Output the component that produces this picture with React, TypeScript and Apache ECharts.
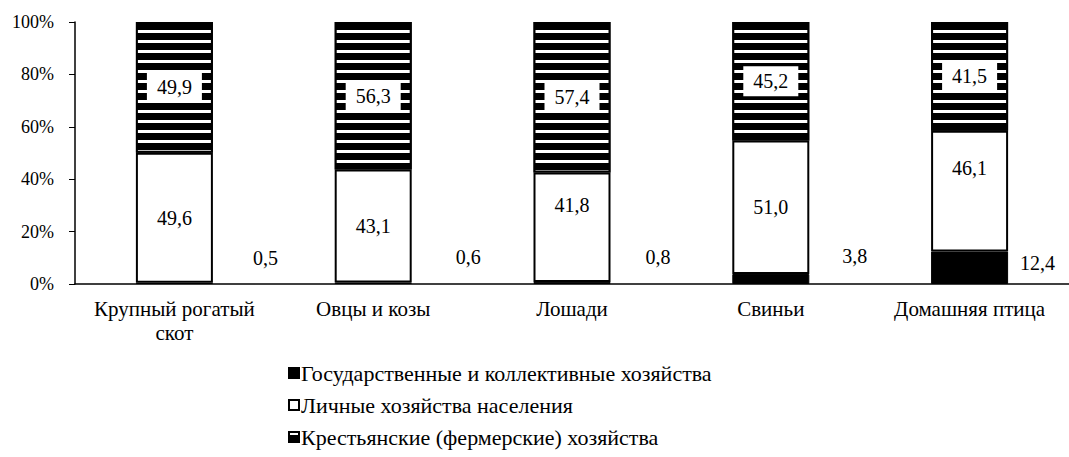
import React, { useEffect, useRef } from "react";
import * as echarts from "echarts";

const categories = ["Крупный рогатый\nскот", "Овцы и козы", "Лошади", "Свиньи", "Домашняя птица"];
const stateFarms = [0.5, 0.6, 0.8, 3.8, 12.4];
const households = [49.6, 43.1, 41.8, 51.0, 46.1];
const peasantFarms = [49.9, 56.3, 57.4, 45.2, 41.5];
const seriesNames = [
  "Государственные и коллективные хозяйства",
  "Личные хозяйства населения",
  "Крестьянские (фермерские) хозяйства",
];
const yTicks = [0, 20, 40, 60, 80, 100];

// label placement tweaks (layout only)
const stateLabelShift: number[][] = [[40, -25], [44, -26], [35, -26], [33, -23], [12, -5]];
const householdLabelShift = [0, 0, -22, 0, -23];

const FONT = "Liberation Serif";
const fmt = (v: number) => v.toFixed(1).replace(".", ",");

export default function App() {
  const ref = useRef<HTMLDivElement>(null);
  useEffect(() => {
    document.body.style.margin = "0";
    const chart = echarts.init(ref.current!, null, { renderer: "svg" });
    chart.setOption({
      animation: false,
      backgroundColor: "#fff",
      textStyle: { fontFamily: FONT, color: "#000" },
      grid: { left: 75, right: -6, top: 22, bottom: 173, containLabel: false },
      legend: {
        orient: "vertical",
        left: 288,
        top: 362,
        padding: 0,
        height: 95,
        itemWidth: 10,
        itemHeight: 10,
        itemGap: 10,
        icon: "rect",
        textStyle: { fontFamily: FONT, fontSize: 22, lineHeight: 22, color: "#000", padding: [0, 0, 0, -3] },
        data: seriesNames,
      },
      xAxis: {
        type: "category",
        data: categories,
        axisLine: { lineStyle: { color: "#000", width: 1.5 } },
        axisTick: { show: false },
        axisLabel: { interval: 0, fontFamily: FONT, fontSize: 21, color: "#000", margin: 13, lineHeight: 24 },
      },
      yAxis: {
        type: "value",
        min: yTicks[0],
        max: yTicks[yTicks.length - 1],
        interval: 20,
        axisLine: { show: true, lineStyle: { color: "#000", width: 1.5 } },
        axisTick: { show: true, length: 6, lineStyle: { color: "#000" } },
        splitLine: { show: false },
        axisLabel: { fontFamily: FONT, fontSize: 18, color: "#000", margin: 21, formatter: "{value}%" },
      },
      series: [
        {
          name: seriesNames[0],
          type: "bar",
          stack: "total",
          barWidth: 77,
          itemStyle: { color: "#000", borderColor: "#000", borderWidth: 1 },
          data: stateFarms.map((v, i) => ({
            value: v,
            label: { offset: stateLabelShift[i] },
          })),
          label: {
            show: true,
            position: "right",
            distance: 0,
            fontFamily: FONT,
            fontSize: 20,
            color: "#000",
            formatter: (p: any) => fmt(p.value),
          },
        },
        {
          name: seriesNames[1],
          type: "bar",
          stack: "total",
          barWidth: 77,
          itemStyle: { color: "#fff", borderColor: "#000", borderWidth: 2 },
          data: households.map((v, i) => ({
            value: v,
            label: { offset: [0, householdLabelShift[i]] },
          })),
          label: {
            show: true,
            position: "inside",
            fontFamily: FONT,
            fontSize: 20,
            color: "#000",
            formatter: (p: any) => fmt(p.value),
          },
        },
        {
          name: seriesNames[2],
          type: "bar",
          stack: "total",
          barWidth: 77,
          itemStyle: {
            color: "#000",
            borderColor: "#000",
            borderWidth: 2,
            decal: {
              symbol: "rect",
              symbolSize: 1,
              color: "#fff",
              dashArrayX: [1, 0],
              dashArrayY: [3, 7],
              rotation: 0,
            },
          },
          data: peasantFarms,
          label: {
            show: true,
            position: "inside",
            fontFamily: FONT,
            fontSize: 20,
            color: "#000",
            backgroundColor: "#fff",
            padding: [5, 10],
            formatter: (p: any) => fmt(p.value),
          },
        },
      ],
    });
    return () => chart.dispose();
  }, []);
  return <div ref={ref} style={{ width: 1069, height: 457 }} />;
}
